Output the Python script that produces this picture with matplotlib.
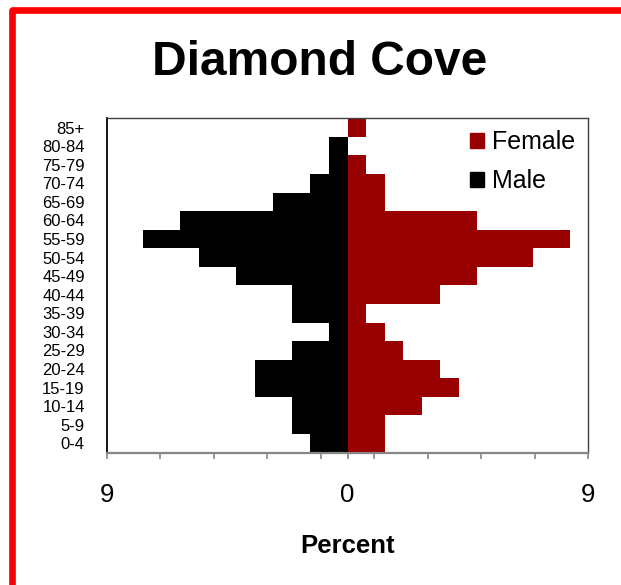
import matplotlib
matplotlib.use("Agg")
import matplotlib.pyplot as plt
from matplotlib.patches import Patch, Rectangle

plt.rcParams["font.family"] = ["Liberation Sans", "DejaVu Sans"]

# age groups, bottom to top
age_groups = ["0-4", "5-9", "10-14", "15-19", "20-24", "25-29", "30-34",
              "35-39", "40-44", "45-49", "50-54", "55-59", "60-64", "65-69",
              "70-74", "75-79", "80-84", "85+"]

# percent of population
male_pct = [1.39, 2.08, 2.08, 3.47, 3.47, 2.08, 0.69, 2.08, 2.08,
            4.17, 5.56, 7.64, 6.25, 2.78, 1.39, 0.69, 0.69, 0.0]
female_pct = [1.39, 1.39, 2.78, 4.17, 3.47, 2.08, 1.39, 0.69, 3.47,
              4.86, 6.94, 8.33, 4.86, 1.39, 1.39, 0.69, 0.0, 0.69]

x_ticks = [-9, -7, -5, -3, -1, 0, 1, 3, 5, 7, 9]
x_labels = ["9", "", "", "", "", "0", "", "", "", "", "9"]

FEMALE = "#990000"
MALE = "#000000"

W, H = 621, 585
fig = plt.figure(figsize=(W / 100, H / 100), dpi=100)

# red frame, only left and top edges are inside the picture
frame = Rectangle((11.5 / W, -0.1), 1.2, 1.1 - 10 / H, transform=fig.transFigure,
                  fill=False, edgecolor="#ff0000", linewidth=4.8,
                  joinstyle="round", clip_on=False)
fig.patches.append(frame)

ax = fig.add_axes([107 / W, 1 - 452.5 / H, 481 / W, (452.5 - 118.3) / H])

y = range(len(age_groups))
ax.barh(y, [-v for v in male_pct], height=1.0, color=MALE, label="Male")
ax.barh(y, female_pct, height=1.0, color=FEMALE, label="Female")

ax.set_xlim(-9, 9)
ax.set_ylim(-0.5, len(age_groups) - 0.5)
ax.set_yticks(list(y))
ax.set_yticklabels(age_groups, fontsize=12)
ax.tick_params(axis="y", length=0, pad=16)
ax.set_xticks(x_ticks)
ax.set_xticklabels(x_labels, fontsize=18.5)
ax.tick_params(axis="x", direction="out", length=4.3, width=1.2,
               color="#868686", pad=18)
ax.set_xlabel("Percent", fontsize=18.5, fontweight="bold", labelpad=19)

ax.spines["left"].set_color("black")
ax.spines["left"].set_linewidth(1.3)
for side in ("top", "right"):
    ax.spines[side].set_color("#404040")
    ax.spines[side].set_linewidth(1.0)
ax.spines["bottom"].set_color("#868686")
ax.spines["bottom"].set_linewidth(1.6)

handles = [Patch(color=FEMALE, label="Female"), Patch(color=MALE, label="Male")]
ax.legend(handles=handles, loc="upper left", bbox_to_anchor=(470 / W, 1 - 130 / H),
          bbox_transform=fig.transFigure, frameon=False, fontsize=18,
          handlelength=0.56, handleheight=0.56, handletextpad=0.3,
          labelspacing=0.6, borderpad=0, borderaxespad=0)

fig.text(320 / W, 1 - 75 / H, "Diamond Cove", ha="center", va="baseline",
         fontsize=34.5, fontweight="bold")

fig.savefig("out.png", dpi=100)
